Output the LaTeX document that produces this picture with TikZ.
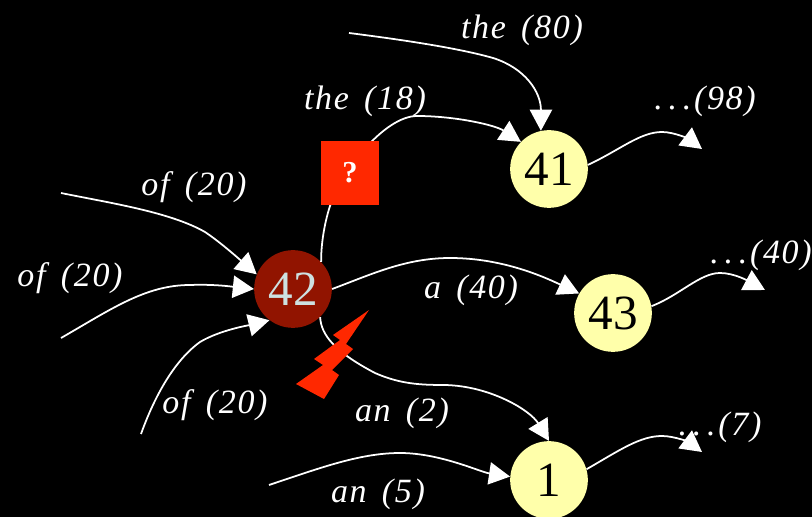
\documentclass[tikz,border=0pt]{standalone}
\usepackage{fontspec}
\setmainfont{Liberation Serif}
\newfontfamily\edgefont[LetterSpace=5]{Liberation Serif}
\usetikzlibrary{arrows.meta}
\definecolor{cbg}{RGB}{0,0,0}
\definecolor{cstate}{RGB}{255,255,170}
\definecolor{chot}{RGB}{145,20,0}
\definecolor{cnum}{RGB}{205,225,225}
\definecolor{cflag}{RGB}{255,40,0}
\newcommand{\gap}{\hspace{0.45em}}
\newcommand{\spdots}{.\hspace{0.17em}.\hspace{0.17em}.\hspace{0.08em}}
\tikzset{
  statenode/.style={circle,fill=cstate,draw=none,minimum size=33.3mm*0.7,inner sep=0pt,
    text=black,font=\fontsize{42}{42}\selectfont},
  hotnode/.style={statenode,fill=chot,text=cnum},
  flagnode/.style={rectangle,fill=cflag,draw=none,minimum width=58*0.3mm,minimum height=64*0.3mm,
    inner sep=0pt,text=white,font=\fontsize{26}{26}\selectfont\bfseries},
  edgelab/.style={text=white,inner sep=0pt,font=\fontsize{29}{29}\selectfont\edgefont\itshape},
  arr/.style={-{Triangle[length=18pt,width=19pt]},draw=white,line width=1.5pt}
}
\begin{document}
\begin{tikzpicture}[x=0.03cm,y=-0.03cm]
  \useasboundingbox (0,0) rectangle (812,517);
  \fill[cbg] (0,0) rectangle (812,517);
  \clip (0,0) rectangle (812,517);
  % states
  \node[hotnode] (n42) at (293,289) {42};
  \node[statenode] (n41) at (549,169) {41};
  \node[statenode] (n43) at (613,313) {43};
  \node[statenode] (n1) at (549,480) {1};
  % free ends of the edges
  \coordinate (the80) at (349,33);
  \coordinate (of1) at (61,193);
  \coordinate (of2) at (61,338);
  \coordinate (of3) at (141,434);
  \coordinate (an5) at (269,485);
  \coordinate (end41) at (702,149);
  \coordinate (end43) at (765,290);
  \coordinate (end1) at (702,452);
  % edges
  \draw[arr] (the80) .. controls (420,42) and (465,50) .. (493,58)
    .. controls (525,68) and (541,92) .. (n41.102);
  \draw[arr] (n42.44) .. controls (321,240) and (326,218) .. (330,206)
    .. controls (342,170) and (385,116) .. (417,116)
    .. controls (455,116) and (495,125) .. (n41.136);
  \draw[arr] (of1) .. controls (110,203) and (170,212) .. (205,232) .. controls (220,242) and (238,258) .. (n42.158);
  \draw[arr] (of2) .. controls (110,310) and (145,285) .. (190,285) .. controls (215,284) and (235,287) .. (n42.180);
  \draw[arr] (of3) .. controls (155,395) and (175,360) .. (200,342) .. controls (220,330) and (250,325) .. (n42.233);
  \draw[arr] (n42.0) .. controls (370,275) and (405,258) .. (450,258) .. controls (500,258) and (540,275) .. (n43.150);
  \draw[arr] (n42.-46) .. controls (321,335) and (335,352) .. (375,373)
    .. controls (400,384) and (420,385) .. (445,385)
    .. controls (490,386) and (530,410) .. (n1.90);
  \draw[arr] (an5) .. controls (320,468) and (360,453) .. (400,453) .. controls (440,453) and (480,472) .. (n1.175);
  \draw[arr] (n41.6) .. controls (620,150) and (640,132) .. (662,132) .. controls (675,132) and (690,140) .. (end41);
  \draw[arr] (n43.10) .. controls (680,295) and (700,273) .. (720,273) .. controls (735,273) and (750,282) .. (end43);
  \draw[arr] (n1.16) .. controls (620,450) and (640,436) .. (662,436) .. controls (675,436) and (690,443) .. (end1);
  % blocked transitions
  \node[flagnode] (flag) at (350,173) {?};
  \fill[cflag] (369,310) -- (333,335) -- (340,340) -- (314,359) -- (323,365) -- (296,384)
    -- (324,399) -- (339,375) -- (332,370) -- (353,349) -- (346,344) -- cycle;
  % labels
  \node[edgelab] (lthe80) at (522,30) {the\gap(80)};
  \node[edgelab] (lthe18) at (365,101) {the\gap(18)};
  \node[edgelab] (lof1) at (194,187) {of\gap(20)};
  \node[edgelab] (lof2) at (70,278) {of\gap(20)};
  \node[edgelab] (lof3) at (215,405) {of\gap(20)};
  \node[edgelab] (la) at (471,290) {a\gap(40)};
  \node[edgelab] (lan2) at (402,413) {an\gap(2)};
  \node[edgelab] (lan5) at (378,494) {an\gap(5)};
  \node[edgelab] (lout41) at (705,101) {\spdots(98)};
  \node[edgelab] (lout43) at (761,255) {\spdots(40)};
  \node[edgelab] (lout1) at (720,427) {\spdots(7)};
\end{tikzpicture}
\end{document}
